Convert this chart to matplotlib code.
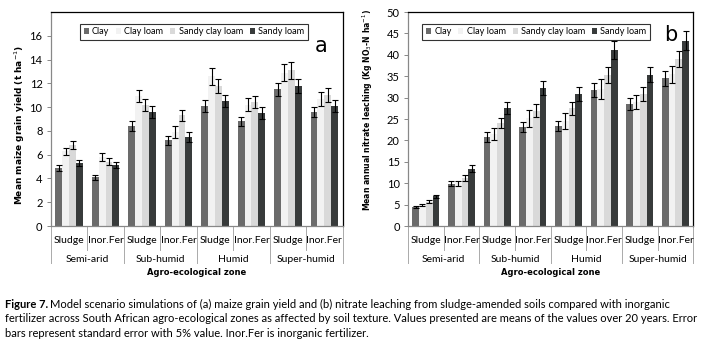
import matplotlib
matplotlib.use('Agg')
import matplotlib.pyplot as plt
import numpy as np
from matplotlib.transforms import blended_transform_factory

plt.rcParams['font.family'] = ['Lato', 'DejaVu Sans']

soils = ['Clay', 'Clay loam', 'Sandy clay loam', 'Sandy loam']
colors = ['#6b6b6b', '#f2f2f2', '#d9d9d9', '#383b3b']
treatments = ['Sludge', 'Inor.Fer']
zones = ['Semi-arid', 'Sub-humid', 'Humid', 'Super-humid']

# panel a: maize grain yield (t/ha), columns: zone x treatment
yield_mean = {
    'Clay':            [4.9, 4.1, 8.4, 7.2, 10.1, 8.8, 11.5, 9.6],
    'Clay loam':       [6.3, 5.8, 10.9, 7.9, 12.6, 10.2, 12.9, 10.7],
    'Sandy clay loam': [6.8, 5.4, 10.2, 9.3, 11.8, 10.4, 13.1, 11.0],
    'Sandy loam':      [5.3, 5.1, 9.6, 7.5, 10.5, 9.5, 11.8, 10.1],
}
yield_err = {
    'Clay':            [0.25, 0.2, 0.4, 0.35, 0.5, 0.4, 0.55, 0.45],
    'Clay loam':       [0.3, 0.3, 0.5, 0.5, 0.7, 0.55, 0.7, 0.6],
    'Sandy clay loam': [0.35, 0.3, 0.5, 0.45, 0.6, 0.5, 0.7, 0.6],
    'Sandy loam':      [0.25, 0.25, 0.5, 0.4, 0.5, 0.5, 0.6, 0.5],
}

# panel b: nitrate leaching (kg NO3-N/ha)
leach_mean = {
    'Clay':            [4.4, 9.9, 20.8, 23.2, 23.3, 31.8, 28.5, 34.5],
    'Clay loam':       [4.9, 10.0, 21.5, 25.2, 24.5, 32.0, 29.0, 35.5],
    'Sandy clay loam': [5.7, 11.3, 24.1, 26.9, 27.5, 35.3, 30.8, 39.0],
    'Sandy loam':      [6.9, 13.4, 27.5, 32.3, 30.8, 41.1, 35.4, 43.3],
}
leach_err = {
    'Clay':            [0.3, 0.6, 1.1, 1.2, 1.2, 1.6, 1.5, 1.8],
    'Clay loam':       [0.3, 0.6, 1.3, 2.0, 1.8, 2.3, 1.6, 2.0],
    'Sandy clay loam': [0.3, 0.7, 1.2, 1.5, 1.5, 1.8, 1.6, 1.9],
    'Sandy loam':      [0.4, 0.8, 1.4, 1.7, 1.6, 2.1, 1.8, 2.2],
}


def draw_panel(ax, means, errs, ymax, ystep, yticks_max, ylabel, ylab_fs, ylab_xy,
               letter, letter_pos, leg_x):
    x = np.arange(len(zones) * len(treatments))
    w = 0.19
    for i, s in enumerate(soils):
        ax.bar(x + (i - 1.5) * w, means[s], w, color=colors[i], label=s,
               yerr=errs[s], capsize=2, error_kw={'elinewidth': 0.8, 'capthick': 0.8, 'ecolor': 'black'})
    ax.set_xlim(-0.5, len(x) - 0.5)
    ax.set_ylim(0, ymax)
    ax.set_yticks(np.arange(0, yticks_max + 0.1, ystep))
    ax.tick_params(axis='y', length=3, width=0.7, color='#888888', labelsize=8, pad=3)
    ax.set_xticks([])
    for sp in ax.spines.values():
        sp.set_linewidth(0.9)
    ax.spines['left'].set_color('#888888')
    ax.spines['bottom'].set_color('#888888')
    ax.set_ylabel(ylabel, fontsize=ylab_fs, fontweight='bold', family=['DejaVu Sans'])
    ax.yaxis.set_label_coords(ylab_xy[0], ylab_xy[1])

    tr = blended_transform_factory(ax.transData, ax.transAxes)
    for k in range(len(x)):
        ax.text(k, -0.07, treatments[k % 2], transform=tr, ha='center', va='center', fontsize=7.5)
    for z, name in enumerate(zones):
        ax.text(2 * z + 0.5, -0.155, name, transform=tr, ha='center', va='center', fontsize=7.5)
    for b in np.arange(-0.5, len(x), 1.0):
        long = (int(b + 0.5) % 2 == 0)
        ax.plot([b, b], [0, -0.175 if long else -0.11], transform=tr, color='#aaaaaa',
                lw=0.7, clip_on=False)
    ax.text(0.5, -0.215, 'Agro-ecological zone', transform=ax.transAxes, ha='center', va='center',
            fontsize=6, fontweight='bold', family=['DejaVu Sans'])

    leg = ax.legend(loc='upper left', bbox_to_anchor=(leg_x, 0.945), ncol=4, fontsize=6.6,
                    frameon=True, fancybox=False, handlelength=0.55, handleheight=0.55,
                    handletextpad=0.35, columnspacing=0.75, borderpad=0.4, borderaxespad=0)
    leg.get_frame().set_edgecolor('black')
    leg.get_frame().set_linewidth(0.8)
    ax.text(letter_pos[0], letter_pos[1], letter, transform=ax.transAxes, fontsize=15,
            ha='center', va='center', family=['DejaVu Sans'])


fig = plt.figure(figsize=(7.26, 3.44), dpi=100)
ax1 = fig.add_axes([0.070, 0.343, 0.402, 0.622])
ax2 = fig.add_axes([0.562, 0.343, 0.393, 0.622])

draw_panel(ax1, yield_mean, yield_err, 18, 2, 16,
           'Mean maize grain yield (t ha$^{-1}$)', 6.5, (-0.08, 0.47),
           'a', (0.925, 0.84), 0.10)
draw_panel(ax2, leach_mean, leach_err, 50, 5, 50,
           'Mean annual nitrate leaching (Kg NO$_3$-N ha$^{-1}$)', 5.6, (-0.115, 0.54),
           'b', (0.92, 0.895), 0.05)

cap_y = [0.115, 0.073, 0.031]
fs = 8
t = fig.text(0.007, cap_y[0], 'Figure 7.', fontsize=fs, va='center', ha='left', fontweight='bold')
fig.canvas.draw()
bb = t.get_window_extent()
fig.text(bb.x1 / fig.bbox.width + 0.003, cap_y[0],
         'Model scenario simulations of (a) maize grain yield and (b) nitrate leaching from sludge-amended soils compared with inorganic',
         fontsize=fs, va='center', ha='left')
fig.text(0.007, cap_y[1], 'fertilizer across South African agro-ecological zones as affected by soil texture. Values presented are means of the values over 20 years. Error',
         fontsize=fs, va='center', ha='left')
fig.text(0.007, cap_y[2], 'bars represent standard error with 5% value. Inor.Fer is inorganic fertilizer.',
         fontsize=fs, va='center', ha='left')

fig.savefig('out.png', dpi=100)
